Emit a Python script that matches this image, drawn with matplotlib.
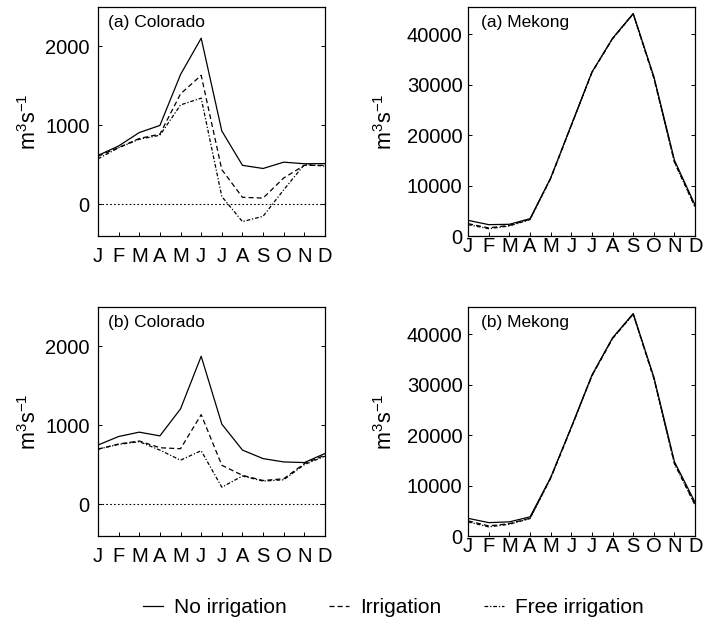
import numpy as np
import matplotlib
matplotlib.use("Agg")
import matplotlib.pyplot as plt

plt.rcParams['font.family'] = ['Liberation Sans', 'DejaVu Sans']
plt.rcParams['mathtext.fontset'] = 'custom'
plt.rcParams['mathtext.rm'] = 'Liberation Sans'
plt.rcParams['mathtext.it'] = 'Liberation Sans:italic'

months = ['J', 'F', 'M', 'A', 'M', 'J', 'J', 'A', 'S', 'O', 'N', 'D']

# Colorado, (a)
col_a_none = [620, 740, 910, 1000, 1645, 2105, 930, 495, 455, 535, 515, 517]
col_a_irr = [610, 720, 835, 890, 1400, 1635, 440, 90, 80, 335, 495, 495]
col_a_free = [577, 718, 825, 876, 1260, 1346, 100, -218, -150, 185, 505, 485]

# Colorado, (b)
col_b_none = [752, 860, 915, 868, 1210, 1876, 1017, 688, 580, 538, 530, 645]
col_b_irr = [700, 765, 803, 718, 705, 1137, 496, 368, 303, 325, 517, 624]
col_b_free = [700, 760, 795, 688, 560, 680, 218, 360, 295, 312, 504, 611]

# Mekong, (a)
mek_a_none = [3100, 2250, 2320, 3440, 11500, 22000, 32500, 39200, 44100, 31600, 15000, 6100]
mek_a_irr = [2450, 1600, 2120, 3310, 11450, 21950, 32450, 39150, 44050, 31400, 14700, 5800]
mek_a_free = [2250, 1450, 1990, 3250, 11400, 21900, 32400, 39100, 44000, 31300, 14600, 5700]

# Mekong, (b)
mek_b_none = [3500, 2650, 2800, 3800, 11600, 21600, 31900, 39300, 44100, 31500, 14700, 6650]
mek_b_irr = [3000, 2000, 2450, 3520, 11500, 21500, 31800, 39200, 44000, 31300, 14400, 6200]
mek_b_free = [2800, 1800, 2330, 3460, 11450, 21450, 31750, 39150, 43950, 31200, 14300, 6100]

x = np.arange(1, 13)

fig = plt.figure(figsize=(7.05, 6.25), dpi=100)

w = 0.322
h = 0.3664
panels = [
    ([0.139, 0.6224, w, h], col_a_none, col_a_irr, col_a_free, '(a) Colorado', 'col'),
    ([0.664, 0.6224, w, h], mek_a_none, mek_a_irr, mek_a_free, '(a) Mekong', 'mek'),
    ([0.139, 0.1424, w, h], col_b_none, col_b_irr, col_b_free, '(b) Colorado', 'col'),
    ([0.664, 0.1424, w, h], mek_b_none, mek_b_irr, mek_b_free, '(b) Mekong', 'mek'),
]

ylab = r'$\mathrm{m}^3\mathrm{s}^{-1}$'

handles = None
for rect, none, irr, free, title, kind in panels:
    ax = fig.add_axes(rect)
    l1, = ax.plot(x, none, color='black', lw=0.9, label='No irrigation')
    l2, = ax.plot(x, irr, color='black', lw=0.9, dashes=(4, 2.5), label='Irrigation')
    l3, = ax.plot(x, free, color='black', lw=0.9, dashes=(3, 1.5, 1, 1.5), label='Free irrigation')
    handles = [l1, l2, l3]
    ax.axhline(0, color='black', lw=0.8, ls=(0, (1.5, 2)), zorder=0)
    ax.set_xlim(1, 12)
    ax.set_xticks(x)
    ax.set_xticklabels(months)
    if kind == 'col':
        ax.set_ylim(-400, 2500)
        ax.set_yticks([0, 1000, 2000])
        ax.tick_params(axis='x', pad=8)
        ax.tick_params(axis='y', pad=6)
        ax.set_ylabel(ylab, fontsize=15.5, labelpad=3)
        ax.text(0.045, 0.965, title, transform=ax.transAxes, fontsize=12.5, va='top', ha='left')
    else:
        ax.set_ylim(0, 45400)
        ax.set_yticks([0, 10000, 20000, 30000, 40000])
        ax.tick_params(axis='x', pad=1)
        ax.tick_params(axis='y', pad=4)
        ax.set_ylabel(ylab, fontsize=15.5, labelpad=7)
        ax.text(0.055, 0.965, title, transform=ax.transAxes, fontsize=12.5, va='top', ha='left')
    ax.tick_params(direction='in', length=3, width=0.7, right=True, labelsize=14.5)
    for s in ax.spines.values():
        s.set_linewidth(0.9)

fig.legend(handles=handles, loc='center', bbox_to_anchor=(0.558, 0.028), ncol=3,
           frameon=False, fontsize=15, handlelength=0.96, handletextpad=0.53,
           columnspacing=2.05)

fig.savefig('out.png', dpi=100)
